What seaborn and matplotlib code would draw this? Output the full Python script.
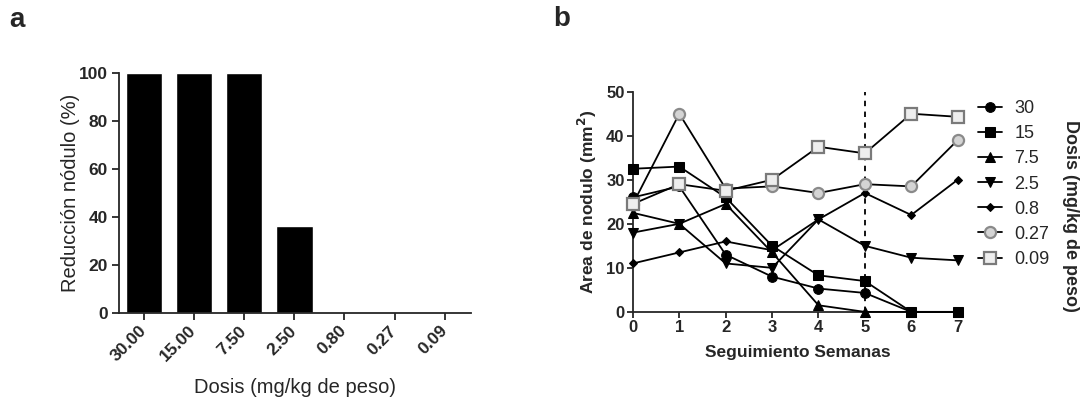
import pandas as pd
import matplotlib.pyplot as plt
import seaborn as sns

# Panel a: reduccion del nodulo por dosis
dosis_labels = ["30.00", "15.00", "7.50", "2.50", "0.80", "0.27", "0.09"]
reduccion = [100, 100, 100, 36.5, 0, 0, 0]

# Panel b: area de nodulo por semana de seguimiento
semanas = [0, 1, 2, 3, 4, 5, 6, 7]
grupos = ["30", "15", "7.5", "2.5", "0.8", "0.27", "0.09"]
area_30 = [26, 28.5, 13, 8, 5.3, 4.3, 0, 0]
area_15 = [32.5, 33, 26, 15, 8.3, 7, 0, 0]
area_7_5 = [22.5, 20, 24.5, 13.5, 1.5, 0, 0, 0]
area_2_5 = [18, 20, 11, 10, 21, 15, 12.3, 11.7]
area_0_8 = [11, 13.5, 16, 14, 21, 27, 22, 30]
area_0_27 = [24.5, 45, 28, 28.5, 27, 29, 28.5, 39]
area_0_09 = [24.5, 29, 27.5, 30, 37.5, 36, 45, 44.3]
areas = [area_30, area_15, area_7_5, area_2_5, area_0_8, area_0_27, area_0_09]

sns.set_style("ticks")
plt.rcParams['font.family'] = ['Liberation Sans', 'DejaVu Sans']

fig = plt.figure(figsize=(10.8, 4.04), dpi=100)

# ---------- panel a ----------
ax1 = fig.add_axes([0.110, 0.225, 0.326, 0.594])
sns.barplot(x=dosis_labels, y=reduccion, color='black', saturation=1,
            width=0.73, ax=ax1)
ax1.set_xlim(-0.5, 6.52)
ax1.set_ylim(0, 100)
ax1.set_yticks([0, 20, 40, 60, 80, 100])
ax1.set_xlabel('Dosis (mg/kg de peso)', fontsize=14.5, labelpad=10)
ax1.set_ylabel('Reducción nódulo (%)', fontsize=14.5, labelpad=-1)
for lab in ax1.get_yticklabels():
    lab.set_fontweight('bold')
plt.setp(ax1.get_xticklabels(), rotation=45, ha='right', va='center',
         rotation_mode='anchor', fontweight='bold')
ax1.tick_params(axis='both', labelsize=12.5, width=1.3, length=5, pad=3)
ax1.tick_params(axis='x', pad=6)
sns.despine(ax=ax1)
for s in ['left', 'bottom']:
    ax1.spines[s].set_linewidth(1.3)

# ---------- panel b ----------
ax2 = fig.add_axes([0.586, 0.228, 0.305, 0.545])
estilos = [
    dict(marker='o', markersize=7, markerfacecolor='black', markeredgecolor='black'),
    dict(marker='s', markersize=7, markerfacecolor='black', markeredgecolor='black'),
    dict(marker='^', markersize=7, markerfacecolor='black', markeredgecolor='black'),
    dict(marker='v', markersize=7, markerfacecolor='black', markeredgecolor='black'),
    dict(marker='D', markersize=4.5, markerfacecolor='black', markeredgecolor='black'),
    dict(marker='o', markersize=8, markerfacecolor='#d4d4d4', markeredgecolor='#8a8a8a',
         markeredgewidth=1.6),
    dict(marker='s', markersize=8, markerfacecolor='#eeeeee', markeredgecolor='#7a7a7a',
         markeredgewidth=1.6),
]
for g, vals, st in zip(grupos, areas, estilos):
    df = pd.DataFrame({'semana': semanas, 'area': vals})
    sns.lineplot(data=df, x='semana', y='area', color='black', linewidth=1.3,
                 label=g, clip_on=False, zorder=3, ax=ax2, **st)

ax2.axvline(5, color='black', linestyle=(0, (3, 3)), linewidth=1.3, zorder=2)
ax2.set_xlim(0, 7.1)
ax2.set_ylim(0, 50)
ax2.set_xticks(semanas)
ax2.set_yticks([0, 10, 20, 30, 40, 50])
ax2.set_xlabel('Seguimiento Semanas', fontsize=12.5, fontweight='bold', labelpad=7)
ax2.set_ylabel('Area de nodulo (mm$^\\mathbf{2}$)', fontsize=12.5, fontweight='bold',
               labelpad=5)
for lab in ax2.get_xticklabels() + ax2.get_yticklabels():
    lab.set_fontweight('bold')
ax2.tick_params(axis='both', labelsize=12, width=1.3, length=4, pad=2)
sns.despine(ax=ax2)
for s in ['left', 'bottom']:
    ax2.spines[s].set_linewidth(1.3)

ax2.legend_.remove()
handles, labels = ax2.get_legend_handles_labels()
fig.legend(handles, labels, loc='upper left', bbox_to_anchor=(0.906, 0.752),
           frameon=False, fontsize=13, borderpad=0, borderaxespad=0,
           handlelength=1.3, handletextpad=0.7, labelspacing=0.45)
fig.text(0.991, 0.465, 'Dosis (mg/kg de peso)', rotation=-90, fontsize=13,
         fontweight='bold', ha='center', va='center')

# etiquetas de panel
fig.text(0.009, 0.95, 'a', fontsize=20, fontweight='bold', ha='left', va='center')
fig.text(0.512, 0.953, 'b', fontsize=20, fontweight='bold', ha='left', va='center')

plt.savefig('out.png', dpi=100)
